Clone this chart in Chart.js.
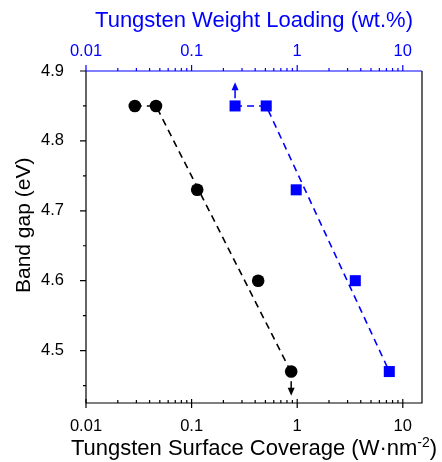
<!DOCTYPE html>
<html>
<head>
<meta charset="utf-8">
<script src="https://cdn.jsdelivr.net/npm/chart.js@4/dist/chart.umd.min.js"></script>
<style>
  html, body { margin: 0; padding: 0; background: #fff; }
  #wrap { width: 442px; height: 462px; }
</style>
</head>
<body>
<div id="wrap"><canvas id="c" width="442" height="462"></canvas></div>
<script>
// ---- data ----
const coverageBlack = [0.029, 0.046, 0.113, 0.427, 0.877];   // W·nm^-2 (bottom axis)
const bandGapBlack  = [4.85, 4.85, 4.73, 4.60, 4.47];
const loadingBlue   = [0.258, 0.509, 0.979, 3.55, 7.45];     // wt.% (top axis)
const bandGapBlue   = [4.85, 4.85, 4.73, 4.60, 4.47];

const fitBlackX = [0.029, 0.046, 0.87];
const fitBlackY = [4.85, 4.85, 4.47];
const fitBlueX  = [0.258, 0.509, 7.45];
const fitBlueY  = [4.85, 4.85, 4.47];

// arrows: [x, fromY, toY]
const arrowBlack = [0.877, 4.456, 4.4355];
const arrowBlue  = [0.258, 4.861, 4.884];

const xTickValues = [0.01, 0.1, 1, 10];
const xTickLabels = ['0.01', '0.1', '1', '10'];
const yTickValues = [4.5, 4.6, 4.7, 4.8, 4.9];
const yTickLabels = ['4.5', '4.6', '4.7', '4.8', '4.9'];
const yMinorValues = [4.45, 4.55, 4.65, 4.75, 4.85];

const bottomTitleMain = 'Tungsten Surface Coverage (W·nm';
const bottomTitleSup = '-2';
const bottomTitleEnd = ')';

const BLUE = '#0000ff';
const FONT = '"Liberation Sans", Arial, sans-serif';

function pts(xs, ys) { return xs.map((x, i) => ({x: x, y: ys[i]})); }

const decor = {
  id: 'decor',
  afterDraw(chart) {
    const {ctx, chartArea: a, scales} = chart;
    const xs = scales.x, xt = scales.x2, ys = scales.y;
    ctx.save();
    ctx.lineWidth = 1.2;
    // frame
    ctx.strokeStyle = '#000';
    ctx.beginPath();
    ctx.moveTo(a.left, a.top); ctx.lineTo(a.left, a.bottom); ctx.lineTo(a.right, a.bottom); ctx.lineTo(a.right, a.top);
    ctx.stroke();
    ctx.strokeStyle = BLUE;
    ctx.beginPath(); ctx.moveTo(a.left, a.top); ctx.lineTo(a.right, a.top); ctx.stroke();

    // log ticks
    function logTicks(scale, cb) {
      for (const d of xTickValues) {
        for (let m = 1; m <= 9; m++) {
          const v = d * m;
          if (v < scale.min - 1e-12 || v > scale.max) continue;
          cb(scale.getPixelForValue(v), m === 1);
        }
      }
    }
    ctx.strokeStyle = '#000';
    ctx.beginPath();
    logTicks(xs, (px, major) => {
      if (major) { ctx.moveTo(px, a.bottom - 4); ctx.lineTo(px, a.bottom + 5); }
      else { ctx.moveTo(px, a.bottom - 3); ctx.lineTo(px, a.bottom); }
    });
    ctx.stroke();
    ctx.strokeStyle = BLUE;
    ctx.beginPath();
    logTicks(xt, (px, major) => {
      if (major) { ctx.moveTo(px, a.top - 6); ctx.lineTo(px, a.top); }
      else { ctx.moveTo(px, a.top - 3); ctx.lineTo(px, a.top); }
    });
    ctx.stroke();
    // y ticks
    ctx.strokeStyle = '#000';
    ctx.beginPath();
    for (const v of yTickValues) { const py = ys.getPixelForValue(v); ctx.moveTo(a.left - 6, py); ctx.lineTo(a.left, py); }
    for (const v of yMinorValues) { const py = ys.getPixelForValue(v); ctx.moveTo(a.left - 3, py); ctx.lineTo(a.left, py); }
    ctx.stroke();

    // arrows
    function arrow(scaleX, arr, color) {
      const px = scaleX.getPixelForValue(arr[0]);
      const y0 = ys.getPixelForValue(arr[1]);
      const y1 = ys.getPixelForValue(arr[2]);
      const dir = Math.sign(y1 - y0);
      ctx.strokeStyle = color; ctx.fillStyle = color; ctx.lineWidth = 1.5;
      ctx.beginPath(); ctx.moveTo(px, y0); ctx.lineTo(px, y1 - dir * 6); ctx.stroke();
      ctx.beginPath();
      ctx.moveTo(px, y1); ctx.lineTo(px - 3.5, y1 - dir * 8); ctx.lineTo(px + 3.5, y1 - dir * 8); ctx.closePath();
      ctx.fill();
    }
    arrow(xs, arrowBlack, '#000');
    arrow(xt, arrowBlue, BLUE);

    // bottom axis title with superscript
    const mainFont = '22px ' + FONT, supFont = '14px ' + FONT;
    ctx.fillStyle = '#000';
    ctx.textBaseline = 'alphabetic';
    ctx.textAlign = 'left';
    ctx.font = mainFont; const w1 = ctx.measureText(bottomTitleMain).width; const w3 = ctx.measureText(bottomTitleEnd).width;
    ctx.font = supFont; const w2 = ctx.measureText(bottomTitleSup).width;
    const total = w1 + w2 + w3;
    const cx = (a.left + a.right) / 2;
    let x0 = cx - total / 2;
    const base = 455;
    ctx.font = mainFont; ctx.fillText(bottomTitleMain, x0, base);
    ctx.font = supFont; ctx.fillText(bottomTitleSup, x0 + w1, base - 8);
    ctx.font = mainFont; ctx.fillText(bottomTitleEnd, x0 + w1 + w2, base);
    ctx.restore();
  }
};

new Chart(document.getElementById('c'), {
  type: 'scatter',
  data: {
    datasets: [
      { data: pts(fitBlackX, fitBlackY), xAxisID: 'x', yAxisID: 'y', showLine: true, borderColor: '#000',
        borderWidth: 1.6, borderDash: [7, 5], pointRadius: 0, fill: false },
      { data: pts(fitBlueX, fitBlueY), xAxisID: 'x2', yAxisID: 'y', showLine: true, borderColor: BLUE,
        borderWidth: 1.6, borderDash: [7, 5], pointRadius: 0, fill: false },
      { data: pts(coverageBlack, bandGapBlack), xAxisID: 'x', yAxisID: 'y', pointStyle: 'circle',
        pointRadius: 6.3, backgroundColor: '#000', borderColor: '#000', borderWidth: 0 },
      { data: pts(loadingBlue, bandGapBlue), xAxisID: 'x2', yAxisID: 'y', pointStyle: 'rect',
        pointRadius: 7.8, backgroundColor: BLUE, borderColor: BLUE, borderWidth: 0 }
    ]
  },
  options: {
    responsive: false,
    animation: false,
    layout: { padding: { left: 0, right: 20, top: 0, bottom: 0 } },
    plugins: { legend: { display: false }, tooltip: { enabled: false } },
    scales: {
      x: {
        type: 'logarithmic', position: 'bottom', min: 0.01, max: 15.2,
        afterBuildTicks: s => { s.ticks = xTickValues.map(v => ({value: v})); },
        afterFit: s => { s.height = 59; },
        grid: { display: false }, border: { display: false },
        ticks: { autoSkip: false, maxRotation: 0, padding: 6, color: '#000',
                 font: { family: FONT, size: 16.5 },
                 callback: v => xTickLabels[xTickValues.indexOf(v)] },
        title: { display: false }
      },
      x2: {
        type: 'logarithmic', position: 'top', min: 0.01, max: 15.2,
        afterBuildTicks: s => { s.ticks = xTickValues.map(v => ({value: v})); },
        afterFit: s => { s.height = 71; },
        grid: { display: false }, border: { display: false },
        ticks: { autoSkip: false, maxRotation: 0, padding: 2, color: BLUE,
                 font: { family: FONT, size: 16.5 },
                 callback: v => xTickLabels[xTickValues.indexOf(v)] },
        title: { display: true, text: 'Tungsten Weight Loading (wt.%)', color: BLUE,
                 font: { family: FONT, size: 22 }, padding: { top: 8, bottom: 0 } }
      },
      y: {
        type: 'linear', position: 'left', min: 4.425, max: 4.9,
        afterBuildTicks: s => { s.ticks = yTickValues.map(v => ({value: v})); },
        afterFit: s => { s.width = 86; },
        grid: { display: false }, border: { display: false },
        ticks: { padding: 14, color: '#000', font: { family: FONT, size: 16.5 },
                 callback: v => yTickLabels[yTickValues.indexOf(v)] },
        title: { display: true, text: '    Band gap (eV)', color: '#000',
                 font: { family: FONT, size: 21 }, padding: { top: 12, bottom: 0 } }
      }
    }
  },
  plugins: [decor]
});
</script>
</body>
</html>
